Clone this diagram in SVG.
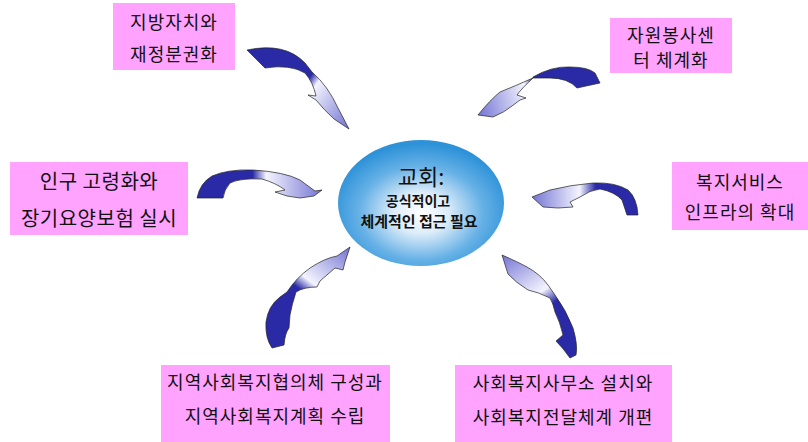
<svg xmlns="http://www.w3.org/2000/svg" width="808" height="442" viewBox="0 0 808 442">
<style>
.box{fill:#FFA3FF;stroke:none}
.t{font-family:"Noto Sans CJK KR","Noto Sans",sans-serif;font-size:18px;letter-spacing:1px;fill:#111;text-anchor:middle}
.big{font-size:20px;letter-spacing:0.5px}
.arrow{stroke:#222;stroke-width:0.7}
.c1{font-family:"Noto Sans CJK KR","Noto Sans",sans-serif;fill:#111;text-anchor:middle}
</style>
<defs>
<radialGradient id="eg" cx="50%" cy="58%" r="55%">
<stop offset="0" stop-color="#ffffff"/>
<stop offset="0.3" stop-color="#dcecf9"/>
<stop offset="0.68" stop-color="#66b1e6"/>
<stop offset="1" stop-color="#2e92d8"/>
</radialGradient>
<linearGradient id="a1" gradientUnits="userSpaceOnUse" x1="250" y1="55" x2="348" y2="128">
<stop offset="0" stop-color="#2a2aa6"/><stop offset="0.5" stop-color="#2a2aa6"/><stop offset="0.58" stop-color="#f4f4ff"/><stop offset="1" stop-color="#7474d4"/>
</linearGradient>
<linearGradient id="a2" gradientUnits="userSpaceOnUse" x1="600" y1="80" x2="478" y2="115">
<stop offset="0" stop-color="#2a2aa6"/><stop offset="0.5" stop-color="#2a2aa6"/><stop offset="0.58" stop-color="#f4f4ff"/><stop offset="1" stop-color="#7474d4"/>
</linearGradient>
<linearGradient id="a3" gradientUnits="userSpaceOnUse" x1="198" y1="190" x2="322" y2="190">
<stop offset="0" stop-color="#2a2aa6"/><stop offset="0.44" stop-color="#2a2aa6"/><stop offset="0.55" stop-color="#f4f4ff"/><stop offset="1" stop-color="#7474d4"/>
</linearGradient>
<linearGradient id="a4" gradientUnits="userSpaceOnUse" x1="638" y1="200" x2="532" y2="200">
<stop offset="0" stop-color="#2a2aa6"/><stop offset="0.4" stop-color="#2a2aa6"/><stop offset="0.55" stop-color="#f4f4ff"/><stop offset="1" stop-color="#7474d4"/>
</linearGradient>
<linearGradient id="a5" gradientUnits="userSpaceOnUse" x1="272" y1="348" x2="350" y2="248">
<stop offset="0" stop-color="#2a2aa6"/><stop offset="0.5" stop-color="#2a2aa6"/><stop offset="0.6" stop-color="#f4f4ff"/><stop offset="1" stop-color="#7474d4"/>
</linearGradient>
<linearGradient id="a6" gradientUnits="userSpaceOnUse" x1="572" y1="358" x2="502" y2="255">
<stop offset="0" stop-color="#2a2aa6"/><stop offset="0.45" stop-color="#2a2aa6"/><stop offset="0.58" stop-color="#f4f4ff"/><stop offset="1" stop-color="#7474d4"/>
</linearGradient>
</defs>
<rect width="808" height="442" fill="#ffffff"/>

<g id="center">
<ellipse cx="421" cy="203" rx="83" ry="63" fill="url(#eg)"/>
<text class="c1" x="421" y="185" font-size="22">교회:</text>
<text class="c1" x="418" y="206" font-size="14" font-weight="bold">공식적이고</text>
<text class="c1" x="419" y="227" font-size="15" font-weight="bold">체계적인 접근 필요</text>
</g>

<g id="connectors">
<path class="arrow" fill="url(#a1)" d="M247,50 Q285,42 305,63 L312,72 Q328,86 338,108 L349,129 L334,119 Q324,110 316,100 L308,95 L316,96 Q313,82 305,73 Q290,64 265,68 Z"/>
<path class="arrow" fill="url(#a2)" d="M533,77 Q552,66 570,67 Q588,67 595,73 L600,83 L577,88 Q568,78 550,78 L533,78 Q515,86 500,92 Q490,100 478,115 L493,117 Q505,112 512,106 L520,100 L526,98 L517,95 Q522,88 533,78 Z"/>
<path class="arrow" fill="url(#a3)" d="M197,198 Q200,183 212,176 Q228,169 253,170 Q285,172 300,180 L315,191 L322,190 L314,196 L300,198 L287,196 L275,192 L285,190 Q276,183 262,179 Q240,178 230,183 Q224,190 223,198 Z"/>
<path class="arrow" fill="url(#a4)" d="M638,215 Q637,198 628,190 Q615,182 593,183 Q570,185 550,190 L532,197 L543,207 L558,208 L573,207 L570,202 L580,197 Q590,190 600,189 Q615,192 622,200 L627,215 Z"/>
<path class="arrow" fill="url(#a5)" d="M272,348 Q265,338 266,322 Q268,306 280,297 L287,292 Q296,278 310,268 Q325,258 337,256 L350,247 L345,262 L343,270 L335,268 L320,281 L317,287 Q304,287 296,292 Q292,304 290,315 L289,328 Q285,333 284,345 Z"/>
<path class="arrow" fill="url(#a6)" d="M502,255 Q518,262 527,267 Q540,274 548,285 L555,295 Q566,310 573,328 Q578,345 576,355 L570,358 Q563,348 556,341 L563,335 Q560,322 555,312 Q553,303 550,298 Q538,292 528,290 Q515,282 508,274 Z"/>
</g>

<g id="n1">
<rect class="box" x="113" y="3" width="122" height="67"/>
<text class="t" x="174" y="29">지방자치와</text>
<text class="t" x="174" y="61">재정분권화</text>
</g>
<g id="n2">
<rect class="box" x="610" y="18" width="122" height="55"/>
<text class="t" x="671" y="42">자원봉사센</text>
<text class="t" x="671" y="67">터 체계화</text>
</g>
<g id="n3">
<rect class="box" x="10" y="162" width="178" height="73"/>
<text class="t big" x="99" y="189">인구 고령화와</text>
<text class="t big" x="99" y="226">장기요양보험 실시</text>
</g>
<g id="n4">
<rect class="box" x="672" y="162" width="136" height="68"/>
<text class="t" x="740" y="189">복지서비스</text>
<text class="t" x="740" y="219">인프라의 확대</text>
</g>
<g id="n5">
<rect class="box" x="161" y="365" width="229" height="77"/>
<text class="t" x="275" y="389">지역사회복지협의체 구성과</text>
<text class="t" x="275" y="423">지역사회복지계획 수립</text>
</g>
<g id="n6">
<rect class="box" x="455" y="365" width="217" height="77"/>
<text class="t" x="563" y="390">사회복지사무소 설치와</text>
<text class="t" x="563" y="424">사회복지전달체계 개편</text>
</g>
</svg>
